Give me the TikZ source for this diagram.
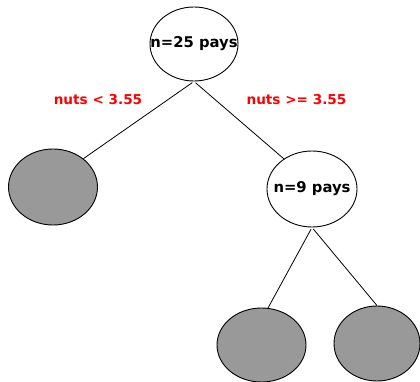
\documentclass[tikz,border=0pt]{standalone}
\usepackage{fontspec}
\setmainfont{DejaVu Sans}
\usetikzlibrary{shapes.geometric}
\begin{document}
\begin{tikzpicture}[x=1pt,y=-1pt,
  treenode/.style={ellipse,draw=black,line width=0.9pt,inner sep=0pt,fill=white},
  leafnode/.style={treenode,fill=leafgray},
  nodetext/.style={font=\fontsize{14.8}{17}\selectfont\bfseries},
  splitlabel/.style={font=\fontsize{13.6}{16}\selectfont\bfseries,text=red,inner sep=0pt},
  edge/.style={draw=black,line width=0.8pt}]
\definecolor{leafgray}{HTML}{999999}
\useasboundingbox (0,0) rectangle (420,382);
\node[treenode,minimum width=88pt,minimum height=74pt,label={[nodetext]center:n=25 pays}] (root) at (194,44) {};
\node[leafnode,minimum width=89pt,minimum height=76pt] (left) at (53,187) {};
\node[treenode,minimum width=90pt,minimum height=76pt,label={[nodetext]center:n=9 pays}] (n9) at (312,189) {};
\node[leafnode,minimum width=89pt,minimum height=74pt] (ll) at (261.5,345) {};
\node[leafnode,minimum width=86pt,minimum height=75pt] (lr) at (377,343.5) {};
\node[splitlabel] (lbl1) at (98,100) {nuts < 3.55};
\node[splitlabel] (lbl2) at (296.5,100) {nuts >= 3.55};
\draw[edge,shorten <=2pt] (root.south) -- (left.43);
\draw[edge,shorten <=2pt] (root.south) -- (n9.133);
\draw[edge,shorten <=2pt] (n9.south) -- (ll.80);
\draw[edge,shorten <=2pt] (n9.south) -- (lr.north);
\end{tikzpicture}
\end{document}
